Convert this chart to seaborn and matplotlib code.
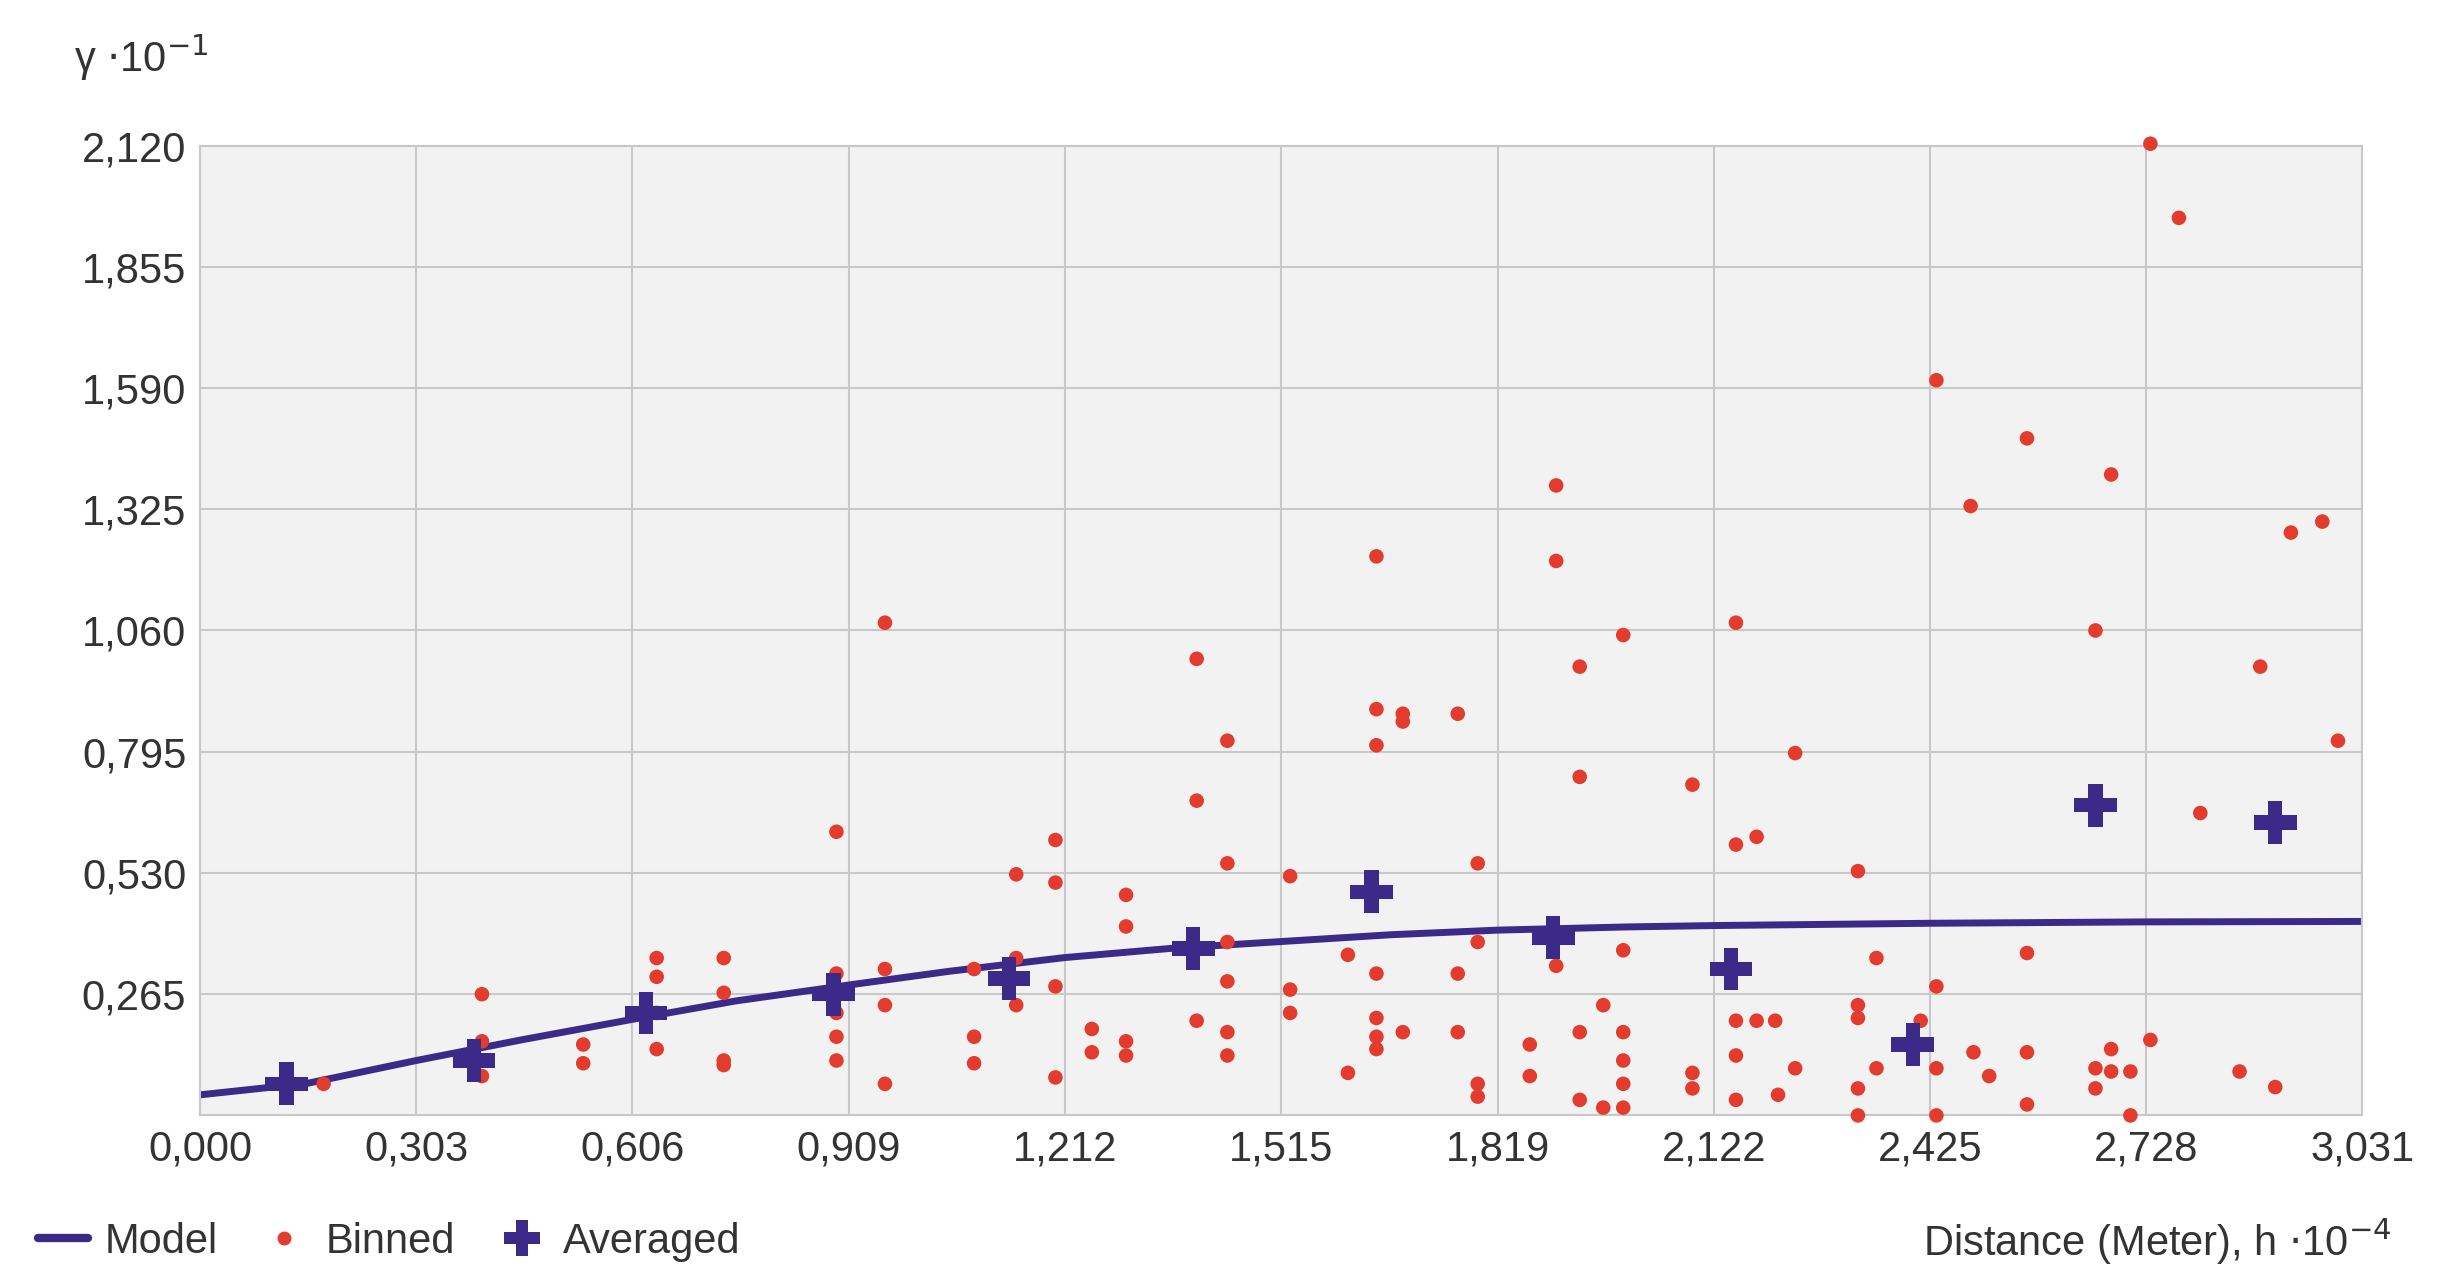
import matplotlib
matplotlib.use("Agg")
import matplotlib.pyplot as plt
import seaborn as sns
from matplotlib.lines import Line2D

x_ticks = [0.0, 0.303, 0.606, 0.909, 1.212, 1.515, 1.819, 2.122, 2.425, 2.728, 3.031]
x_tick_labels = ["0,000", "0,303", "0,606", "0,909", "1,212", "1,515", "1,819", "2,122", "2,425", "2,728", "3,031"]
y_ticks = [0.265, 0.530, 0.795, 1.060, 1.325, 1.590, 1.855, 2.120]
y_tick_labels = ["0,265", "0,530", "0,795", "1,060", "1,325", "1,590", "1,855", "2,120"]

model_x = [0.0, 0.15, 0.303, 0.45, 0.606, 0.75, 0.909, 1.05, 1.212, 1.36, 1.515, 1.67, 1.819, 2.0, 2.122, 2.425, 2.728, 3.031]
model_y = [0.045, 0.07, 0.12, 0.165, 0.21, 0.25, 0.285, 0.315, 0.345, 0.365, 0.38, 0.395, 0.405, 0.412, 0.415, 0.42, 0.423, 0.424]

avg_x = [0.121, 0.384, 0.625, 0.888, 1.134, 1.392, 1.642, 1.897, 2.146, 2.401, 2.657, 2.909]
avg_y = [0.069, 0.120, 0.224, 0.265, 0.299, 0.365, 0.489, 0.389, 0.320, 0.155, 0.678, 0.640]

binned_x = [0.173,
    0.395, 0.395, 0.395, 0.395,
    0.537, 0.537,
    0.640, 0.640, 0.640, 0.640,
    0.734, 0.734, 0.734, 0.734,
    0.892, 0.892, 0.892, 0.892, 0.892,
    0.960, 0.960, 0.960, 0.960,
    1.085, 1.085, 1.085,
    1.144, 1.144, 1.144,
    1.199, 1.199, 1.199, 1.199,
    1.250, 1.250,
    1.298, 1.298, 1.298, 1.298,
    1.397, 1.397, 1.397,
    1.440, 1.440, 1.440, 1.440, 1.440, 1.440,
    1.528, 1.528, 1.528,
    1.609, 1.609,
    1.649, 1.649, 1.649, 1.649, 1.649, 1.649, 1.649,
    1.686, 1.686, 1.686,
    1.763, 1.763, 1.763,
    1.791, 1.791, 1.791, 1.791,
    1.864, 1.864,
    1.901, 1.901, 1.901,
    1.934, 1.934, 1.934, 1.934,
    1.967, 1.967,
    1.995, 1.995, 1.995, 1.995, 1.995, 1.995,
    2.092, 2.092, 2.092,
    2.153, 2.153, 2.153, 2.153, 2.153,
    2.182, 2.182,
    2.208, 2.212,
    2.236, 2.236,
    2.324, 2.324, 2.324, 2.324, 2.324,
    2.350, 2.350,
    2.412,
    2.434, 2.434, 2.434, 2.434,
    2.482, 2.486, 2.508,
    2.561, 2.561, 2.561, 2.561,
    2.657, 2.657, 2.657,
    2.679, 2.679, 2.679,
    2.706, 2.706,
    2.734, 2.734,
    2.774, 2.804, 2.859, 2.888, 2.909, 2.931, 2.975, 2.997]
binned_y = [0.069,
    0.265, 0.162, 0.120, 0.086,
    0.155, 0.114,
    0.344, 0.303, 0.224, 0.145,
    0.344, 0.268, 0.120, 0.110,
    0.620, 0.310, 0.224, 0.172, 0.120,
    1.077, 0.320, 0.241, 0.069,
    0.320, 0.172, 0.114,
    0.527, 0.344, 0.241,
    0.602, 0.509, 0.282, 0.083,
    0.189, 0.138,
    0.482, 0.413, 0.162, 0.131,
    0.998, 0.688, 0.207,
    0.819, 0.551, 0.379, 0.293, 0.182, 0.131,
    0.523, 0.275, 0.224,
    0.351, 0.093,
    1.222, 0.888, 0.809, 0.310, 0.213, 0.172, 0.145,
    0.878, 0.861, 0.182,
    0.878, 0.310, 0.182,
    0.551, 0.379, 0.069, 0.041,
    0.155, 0.086,
    1.377, 1.212, 0.327,
    0.981, 0.740, 0.182, 0.034,
    0.241, 0.017,
    1.050, 0.361, 0.182, 0.120, 0.069, 0.017,
    0.723, 0.093, 0.059,
    1.077, 0.592, 0.207, 0.131, 0.034,
    0.609, 0.207,
    0.207, 0.045,
    0.792, 0.103,
    0.534, 0.241, 0.213, 0.059, 0.0,
    0.344, 0.103,
    0.207,
    1.607, 0.282, 0.103, 0.0,
    1.332, 0.138, 0.086,
    1.480, 0.355, 0.138, 0.024,
    1.060, 0.103, 0.059,
    1.401, 0.145, 0.096,
    0.096, 0.0,
    2.124, 0.165,
    1.962, 0.661, 0.096, 0.981, 0.062, 1.274, 1.298, 0.819]

navy = "#3b2a88"
red = "#e33b2e"

sns.set_theme(style="whitegrid")
plt.rcParams['font.family'] = ['Liberation Sans', 'DejaVu Sans']
fig = plt.figure(figsize=(24.53, 12.88), dpi=100)
ax = fig.add_axes([0.0816, 0.134, 0.8814, 0.753])
ax.set_facecolor("#f2f2f2")

sns.lineplot(x=model_x, y=model_y, ax=ax, color=navy, linewidth=5)
sns.scatterplot(x=binned_x, y=binned_y, ax=ax, color=red, s=110, edgecolor="none", zorder=3, clip_on=False)
sns.scatterplot(x=avg_x, y=avg_y, ax=ax, color=navy, marker="P", s=950, edgecolor="none", zorder=4, clip_on=False)

ax.set_xlim(0, 3.031)
ax.set_ylim(0, 2.12)
ax.set_xticks(x_ticks)
ax.set_xticklabels(x_tick_labels)
ax.set_yticks(y_ticks)
ax.set_yticklabels(y_tick_labels)
ax.tick_params(labelsize=30, colors="#333333", length=0, pad=10)
ax.grid(True, color="#c8c8c8", linewidth=1.5)
for s in ax.spines.values():
    s.set_color("#c8c8c8")
    s.set_linewidth(1.5)
ax.set_xlabel("")
ax.set_ylabel("")

fig.text(0.03, 0.955, r"γ $\cdot$10$^{-1}$", fontsize=30, color="#333333", ha="left", va="center")
fig.text(0.975, 0.036, r"Distance (Meter), h $\cdot$10$^{-4}$", fontsize=30, color="#333333", ha="right", va="center")

handles = [Line2D([], [], color=navy, linewidth=6),
           Line2D([], [], color=red, marker="o", linestyle="none", markersize=9),
           Line2D([], [], color=navy, marker="P", linestyle="none", markersize=26, markeredgewidth=0)]
fig.legend(handles, ["Model", "Binned", "Averaged"], loc="center left", bbox_to_anchor=(0.0, 0.036),
           ncol=3, frameon=False, fontsize=30, handlelength=1.2, columnspacing=1.0, handletextpad=0.4,
           labelcolor="#333333")

fig.savefig("out.png", dpi=100)
